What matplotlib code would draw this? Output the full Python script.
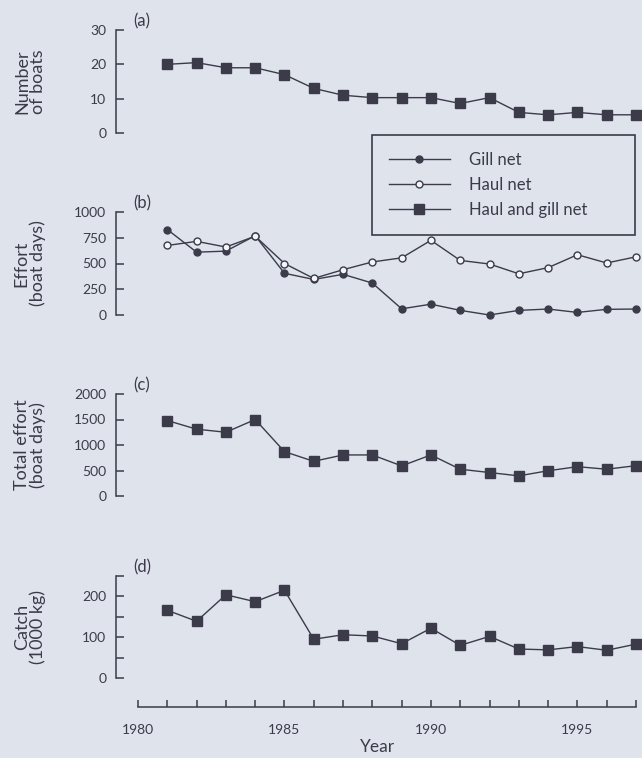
import numpy as np
import matplotlib.pyplot as plt

plt.rcParams['font.family'] = ['Lato', 'DejaVu Sans']

# Data
years = np.arange(1981, 1998)

boats = [20, 20.5, 19, 19, 17, 13, 11, 10.3, 10.3, 10.3, 8.6, 10.3, 6, 5.3, 6, 5.3, 5.3]

gill_effort = [830, 610, 620, 770, 405, 345, 395, 310, 60, 105, 45, 0, 45, 58, 25, 55, 58]
haul_effort = [675, 715, 660, 765, 500, 355, 440, 515, 555, 725, 530, 495, 400, 460, 585, 505, 565]

total_effort = [1480, 1310, 1250, 1500, 870, 680, 805, 805, 590, 805, 525, 460, 395, 495, 575, 525, 595]

catch = [166, 139, 204, 187, 215, 95, 106, 103, 84, 122, 80, 102, 71, 69, 77, 68, 83]

ink = '#3b3b4a'
bg = '#dfe3ec'

W, H = 642, 758
fig = plt.figure(figsize=(W / 100, H / 100), dpi=100, facecolor=bg)

left_px, right_px = 116, 640
x0_year, px_per_year = 1980, (636 - 138) / 17


def make_axes(top_px, bottom_px):
    ax = fig.add_axes([left_px / W, 1 - bottom_px / H,
                       (right_px - left_px) / W, (bottom_px - top_px) / H])
    ax.set_facecolor('none')
    ax.set_xlim(x0_year - (138 - left_px) / px_per_year,
                1997 + (right_px - 636) / px_per_year)
    for s in ['top', 'right', 'bottom']:
        ax.spines[s].set_visible(False)
    ax.spines['left'].set_color(ink)
    ax.spines['left'].set_linewidth(1.1)
    ax.tick_params(axis='y', direction='in', length=6, width=1.1, color=ink,
                   labelcolor=ink, labelsize=10, pad=7)
    ax.set_xticks([])
    return ax


line_kw = dict(color=ink, linewidth=1.0, clip_on=False)

# (a) number of boats
ax_a = make_axes(30, 133)
ax_a.plot(years, boats, marker='s', markersize=6.5, **line_kw)
ax_a.set_ylim(0, 30)
ax_a.set_yticks([0, 10, 20, 30])

# (b) effort by gear type
ax_b = make_axes(212, 315)
h_gill, = ax_b.plot(years, gill_effort, marker='o', markersize=5, label='Gill net', **line_kw)
h_haul, = ax_b.plot(years, haul_effort, marker='o', markersize=5, markerfacecolor='#f4f5f8',
                    markeredgewidth=1.0, label='Haul net', **line_kw)
ax_b.set_ylim(0, 1000)
ax_b.set_yticks([0, 250, 500, 750, 1000])

# (c) total effort
ax_c = make_axes(394, 496)
h_both, = ax_c.plot(years, total_effort, marker='s', markersize=6.5, label='Haul and gill net', **line_kw)
ax_c.set_ylim(0, 2000)
ax_c.set_yticks([0, 500, 1000, 1500, 2000])

# (d) catch
ax_d = make_axes(576, 678)
ax_d.plot(years, catch, marker='s', markersize=6.5, **line_kw)
ax_d.set_ylim(0, 250)
ax_d.set_yticks([0, 50, 100, 150, 200, 250])
ax_d.set_yticklabels(['0', '', '100', '', '200', ''])

# shared year axis below (d)
ax_d.spines['bottom'].set_visible(True)
ax_d.spines['bottom'].set_position(('outward', 21))
ax_d.spines['bottom'].set_bounds(1980, 1997)
ax_d.spines['bottom'].set_color(ink)
ax_d.spines['bottom'].set_linewidth(1.1)
ax_d.set_xticks(np.arange(1980, 1998))
ax_d.set_xticklabels([str(y) if y % 5 == 0 else '' for y in range(1980, 1998)])
ax_d.tick_params(axis='x', direction='in', length=5, width=1.1, color=ink,
                 labelcolor=ink, labelsize=10, pad=12)
ax_d.set_xlabel('Year', fontsize=12.5, color=ink, labelpad=2)

# y labels and panel letters
ylabels = ['Number\nof boats', 'Effort\n(boat days)', 'Total effort\n(boat days)', 'Catch\n(1000 kg)']
for ax, lab, letter in zip([ax_a, ax_b, ax_c, ax_d], ylabels, ['(a)', '(b)', '(c)', '(d)']):
    ax.set_ylabel(lab, fontsize=13, color=ink, va='center', linespacing=1.0)
    ax.yaxis.set_label_coords((30 - left_px) / (right_px - left_px), 0.5)
    ax.text((133 - left_px) / (right_px - left_px), 1.08, letter, transform=ax.transAxes,
            fontsize=12, color=ink, ha='left', va='center')

# legend box
leg = fig.legend(handles=[h_gill, h_haul, h_both], loc='upper left',
                 bbox_to_anchor=(372 / W, 1 - 226 / H, (635 - 372) / W, (226 - 135) / H),
                 mode='expand', fontsize=12, frameon=True, fancybox=False, framealpha=1,
                 handlelength=3.7, handletextpad=1.1, borderpad=1.0, labelspacing=0.55,
                 borderaxespad=0)
leg.get_frame().set_edgecolor(ink)
leg.get_frame().set_linewidth(1.2)
leg.get_frame().set_facecolor(bg)
for t in leg.get_texts():
    t.set_color(ink)

fig.savefig('out.png', dpi=100, facecolor=bg)
